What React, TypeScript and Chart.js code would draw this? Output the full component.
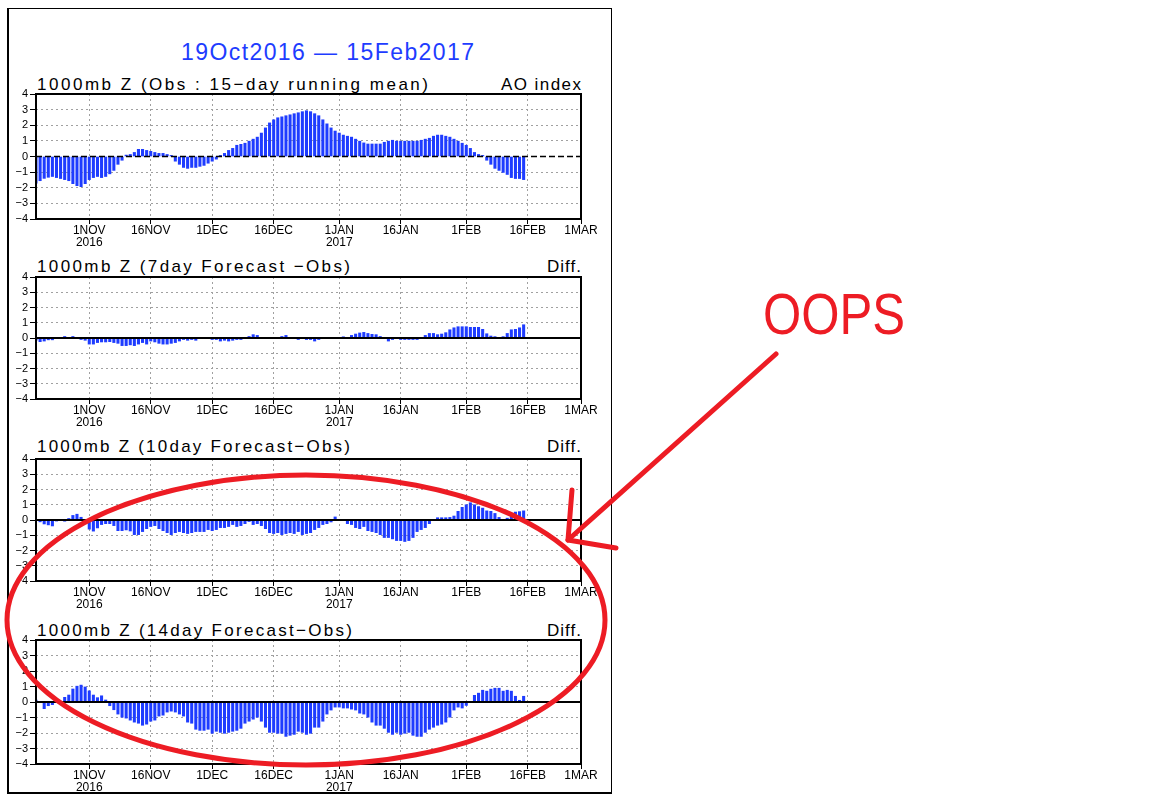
import React, { useEffect, useRef } from 'react';
import { Chart, registerables } from 'chart.js';

Chart.register(...registerables);

// ---- data (one bar per day, 19 Oct 2016 .. 15 Feb 2017) ----
const OBS_AO = [
  -1.70, -1.55, -1.40, -1.33, -1.28, -1.35, -1.41, -1.48, -1.55, -1.74,
  -1.87, -1.93, -1.74, -1.48, -1.35, -1.28, -1.35, -1.28, -1.11, -0.89,
  -0.50, -0.24, 0.09, 0.13, 0.26, 0.46, 0.46, 0.39, 0.33, 0.26,
  0.20, 0.20, 0.13, 0.07, -0.30, -0.50, -0.70, -0.76, -0.70, -0.70,
  -0.63, -0.57, -0.43, -0.30, -0.17, 0.07, 0.20, 0.39, 0.52, 0.72,
  0.78, 0.85, 0.98, 1.11, 1.24, 1.50, 1.83, 2.15, 2.35, 2.48,
  2.54, 2.61, 2.67, 2.74, 2.80, 2.87, 2.93, 2.87, 2.74, 2.61,
  2.35, 2.09, 1.83, 1.63, 1.50, 1.37, 1.30, 1.24, 1.11, 0.98,
  0.87, 0.80, 0.80, 0.80, 0.80, 0.91, 0.98, 1.04, 0.98, 0.98,
  0.98, 0.98, 0.98, 0.98, 1.04, 1.11, 1.17, 1.30, 1.37, 1.37,
  1.30, 1.24, 1.11, 0.98, 0.85, 0.72, 0.52, 0.26, 0.13, 0.07,
  -0.24, -0.50, -0.76, -0.89, -1.02, -1.15, -1.35, -1.41, -1.41, -1.48,
];

const DIFF_7DAY = [
  -0.15, -0.24, -0.20, -0.12, -0.12, 0, 0, 0.10, 0, 0.10,
  0, -0.10, -0.15, -0.40, -0.40, -0.30, -0.26, -0.26, -0.24, -0.30,
  -0.35, -0.50, -0.50, -0.45, -0.50, -0.40, -0.30, -0.40, -0.20, -0.26,
  -0.35, -0.40, -0.40, -0.35, -0.30, -0.20, -0.10, -0.15, -0.10, -0.15,
  0, 0, 0, -0.10, -0.10, -0.20, -0.15, -0.20, -0.15, -0.10,
  -0.10, 0, 0.10, 0.22, 0.17, 0, 0, 0, 0, 0,
  0.10, 0.17, 0, 0, -0.10, 0, -0.10, -0.10, -0.20, -0.10,
  0, 0, 0, 0, 0, 0.08, 0, 0.17, 0.26, 0.33,
  0.37, 0.30, 0.24, 0.22, 0.10, 0, -0.20, -0.10, 0, -0.10,
  -0.10, -0.10, -0.10, -0.10, 0, 0.17, 0.30, 0.30, 0.22, 0.26,
  0.35, 0.54, 0.67, 0.74, 0.74, 0.74, 0.70, 0.70, 0.70, 0.57,
  0.28, 0.13, 0.09, 0, 0.09, 0.30, 0.54, 0.57, 0.67, 0.87,
];

const DIFF_10DAY = [
  -0.05, -0.12, -0.26, -0.32, -0.39, -0.07, 0, -0.08, 0.10, 0.30,
  0.38, 0.18, -0.15, -0.60, -0.73, -0.52, -0.30, -0.24, -0.24, -0.37,
  -0.70, -0.70, -0.65, -0.72, -0.96, -0.96, -0.76, -0.57, -0.43, -0.37,
  -0.57, -0.70, -0.83, -0.96, -0.83, -0.76, -0.83, -0.89, -0.83, -0.76,
  -0.76, -0.76, -0.63, -0.70, -0.63, -0.50, -0.50, -0.43, -0.30, -0.43,
  -0.37, -0.24, -0.10, -0.30, -0.24, -0.37, -0.57, -0.83, -0.89, -0.83,
  -0.96, -0.89, -0.83, -0.89, -0.76, -0.96, -0.89, -0.83, -0.63, -0.50,
  -0.30, -0.24, -0.13, 0.20, 0, 0, -0.24, -0.30, -0.50, -0.57,
  -0.43, -0.70, -0.76, -0.83, -0.96, -1.15, -1.15, -1.24, -1.35, -1.35,
  -1.41, -1.35, -1.15, -0.76, -0.63, -0.50, -0.24, 0, 0.15, 0.15,
  0.15, 0.17, 0.26, 0.57, 0.83, 1.00, 1.13, 1.00, 0.88, 0.78,
  0.60, 0.57, 0.43, 0.17, 0, 0.12, 0.30, 0.52, 0.55, 0.60,
];

const DIFF_14DAY = [
  0.12, 0, -0.43, -0.24, -0.17, 0, 0, 0.30, 0.45, 0.84,
  1.02, 1.09, 0.97, 0.72, 0.45, 0.28, 0.40, 0.13, -0.24, -0.50,
  -0.78, -0.98, -1.04, -1.17, -1.30, -1.37, -1.50, -1.43, -1.24, -1.17,
  -0.91, -0.85, -0.65, -0.59, -0.65, -0.78, -0.91, -1.30, -1.37, -1.76,
  -1.83, -1.83, -1.76, -2.02, -1.89, -1.96, -2.02, -1.96, -1.89, -1.83,
  -1.70, -1.37, -1.24, -1.11, -0.98, -1.24, -1.63, -1.96, -1.96, -2.02,
  -2.02, -2.22, -2.15, -2.09, -1.89, -1.96, -2.09, -2.02, -1.63, -1.63,
  -1.24, -0.78, -0.52, -0.33, -0.33, -0.39, -0.39, -0.46, -0.52, -0.72,
  -0.78, -0.98, -1.30, -1.50, -1.50, -1.70, -1.96, -2.09, -1.96, -2.09,
  -2.02, -1.96, -2.15, -2.22, -2.22, -1.96, -1.76, -1.63, -1.50, -1.43,
  -1.30, -0.98, -0.52, -0.33, -0.39, -0.22, 0, 0.43, 0.57, 0.76,
  0.70, 0.83, 0.89, 0.89, 0.70, 0.76, 0.70, 0.37, 0.11, 0.37,
];

// x axis: days since 19 Oct 2016
const X_MIN_DAY = 0;
const X_MAX_DAY = 133; // 1 Mar 2017
const TICK_DAYS = [13, 28, 43, 58, 74, 89, 105, 120, 133];
const TICK_LABELS: (string | string[])[] = [
  ['1NOV', '2016'], '16NOV', '1DEC', '16DEC', ['1JAN', '2017'], '16JAN', '1FEB', '16FEB', '1MAR',
];
const Y_MIN = -4;
const Y_MAX = 4;

const MAIN_TITLE = '19Oct2016 \u2014 15Feb2017';
const ANNOTATION = 'OOPS';

// ---- styling ----
const BLUE = 'rgb(30,60,255)';
const GRID = '#a0a0a0';
const RED = '#ED1C24';
const TXT_FONT = "'Liberation Sans', Arial, sans-serif";
const TICK_FONT = "'Liberation Sans Narrow', 'Liberation Sans', sans-serif";

const PAD_T = 8;
const X_AXIS_H = 32;
const CANVAS_W = 610;
const PLOT_LEFT = 36;
const PLOT_RIGHT = 581;

type PanelDef = {
  title: string;
  tag: string;
  data: number[];
  top: number;
  h: number;
  dashedZero: boolean;
  titleBase: number;
  titleW: number;
};

const PANELS: PanelDef[] = [
  { title: '1000mb Z (Obs : 15\u2212day running mean)', tag: 'AO index', data: OBS_AO, top: 94, h: 125, dashedZero: true, titleBase: 90, titleW: 391 },
  { title: '1000mb Z (7day Forecast \u2212Obs)', tag: 'Diff.', data: DIFF_7DAY, top: 277, h: 122, dashedZero: false, titleBase: 272, titleW: 313 },
  { title: '1000mb Z (10day Forecast\u2212Obs)', tag: 'Diff.', data: DIFF_10DAY, top: 459, h: 122, dashedZero: false, titleBase: 452.5, titleW: 313 },
  { title: '1000mb Z (14day Forecast\u2212Obs)', tag: 'Diff.', data: DIFF_14DAY, top: 640, h: 124, dashedZero: false, titleBase: 636, titleW: 315 },
];

let measureCtx: CanvasRenderingContext2D | null = null;
function textWidth(text: string, font: string): number {
  if (!measureCtx) measureCtx = document.createElement('canvas').getContext('2d');
  if (!measureCtx) return text.length * 8;
  measureCtx.font = font;
  return measureCtx.measureText(text).width;
}

function FitText(props: { text: string; x: number; base: number; size: number; width: number; color: string; family?: string; scale?: boolean }) {
  const family = props.family || TXT_FONT;
  const font = `${props.size}px ${family}`;
  const w = textWidth(props.text, font);
  const n = props.text.length;
  const style: React.CSSProperties = {
    position: 'absolute',
    left: props.x,
    top: props.base - 0.8465 * props.size,
    fontSize: props.size,
    lineHeight: props.size + 'px',
    fontFamily: family,
    color: props.color,
    whiteSpace: 'nowrap',
  };
  if (props.scale) {
    style.transform = `scaleX(${props.width / w})`;
    style.transformOrigin = 'left top';
  } else if (n > 1) {
    style.letterSpacing = (props.width - w) / (n - 1) + 'px';
  }
  return <div style={style}>{props.text}</div>;
}

const framePlugin = {
  id: 'gradsFrame',
  afterDatasetsDraw(chart: any, _args: any, opts: any) {
    const { ctx, chartArea, scales } = chart;
    const y0 = scales.y.getPixelForValue(0);
    ctx.save();
    ctx.strokeStyle = '#000';
    if (opts.dashedZero) {
      ctx.setLineDash([6, 3]);
      ctx.lineWidth = 1.5;
    } else {
      ctx.lineWidth = 2;
    }
    ctx.beginPath();
    ctx.moveTo(chartArea.left, y0);
    ctx.lineTo(chartArea.right, y0);
    ctx.stroke();
    ctx.restore();
  },
  afterDraw(chart: any) {
    const { ctx, chartArea } = chart;
    ctx.save();
    ctx.strokeStyle = '#000';
    ctx.lineWidth = 2;
    ctx.strokeRect(chartArea.left, chartArea.top, chartArea.right - chartArea.left, chartArea.bottom - chartArea.top);
    ctx.restore();
  },
};

function Panel({ p }: { p: PanelDef }) {
  const ref = useRef<HTMLCanvasElement | null>(null);
  const canvasH = PAD_T + p.h + X_AXIS_H;
  useEffect(() => {
    if (!ref.current) return;
    const points = p.data.map((v, i) => ({ x: X_MIN_DAY + i, y: v }));
    const chart = new Chart(ref.current, {
      type: 'bar',
      data: {
        datasets: [
          {
            data: points as any,
            backgroundColor: BLUE,
            borderWidth: 0,
            barThickness: 2.4,
          } as any,
        ],
      },
      options: {
        animation: false,
        responsive: false,
        maintainAspectRatio: false,
        devicePixelRatio: 1,
        layout: { padding: { top: PAD_T, right: CANVAS_W - PLOT_RIGHT, left: 0, bottom: 0 } },
        plugins: {
          legend: { display: false },
          tooltip: { enabled: false },
          title: { display: false },
          gradsFrame: { dashedZero: p.dashedZero },
        } as any,
        scales: {
          x: {
            type: 'linear',
            min: X_MIN_DAY,
            max: X_MAX_DAY,
            offset: false,
            afterBuildTicks: (s: any) => {
              s.ticks = TICK_DAYS.map((v) => ({ value: v }));
            },
            afterFit: (s: any) => {
              s.height = X_AXIS_H;
              s.paddingLeft = 0;
              s.paddingRight = 0;
              s.paddingTop = 0;
              s.paddingBottom = 0;
            },
            ticks: {
              autoSkip: false,
              maxRotation: 0,
              minRotation: 0,
              padding: 1,
              color: '#000',
              font: { family: TICK_FONT, size: 12, lineHeight: 1.0 },
              callback: (_v: any, i: number) => TICK_LABELS[i],
            },
            grid: {
              offset: false,
              color: (c: any) => (c.tick && c.tick.value === X_MAX_DAY ? 'rgba(0,0,0,0)' : GRID),
              tickColor: '#000',
              tickLength: 5,
              lineWidth: 1,
            },
            border: { display: false, dash: [2, 3] },
          } as any,
          y: {
            min: Y_MIN,
            max: Y_MAX,
            afterFit: (s: any) => {
              s.width = PLOT_LEFT;
              s.paddingLeft = 0;
              s.paddingRight = 0;
              s.paddingTop = 0;
              s.paddingBottom = 0;
            },
            ticks: {
              stepSize: 1,
              autoSkip: false,
              padding: 2,
              color: '#000',
              font: { family: TXT_FONT, size: 11 },
              callback: (v: any) => (Number(v) < 0 ? '\u2212' + Math.abs(Number(v)) : String(v)),
            },
            grid: {
              color: (c: any) => {
                const v = c.tick ? c.tick.value : null;
                return v === 0 || v === Y_MIN || v === Y_MAX ? 'rgba(0,0,0,0)' : GRID;
              },
              tickColor: '#000',
              tickLength: 6,
              lineWidth: 1,
            },
            border: { display: false, dash: [2, 3] },
          } as any,
        },
      },
      plugins: [framePlugin as any],
    });
    return () => chart.destroy();
  }, []);
  return (
    <canvas
      ref={ref}
      width={CANVAS_W}
      height={canvasH}
      style={{ position: 'absolute', left: 0, top: p.top - PAD_T, width: CANVAS_W, height: canvasH }}
    />
  );
}

export default function App() {
  return (
    <div
      style={{
        position: 'absolute',
        left: 0,
        top: 0,
        width: 1152,
        height: 800,
        background: '#fff',
        overflow: 'hidden',
      }}
    >
      <div
        style={{
          position: 'absolute',
          left: 7,
          top: 8,
          width: 602,
          height: 783,
          borderLeft: '2px solid #000',
          borderBottom: '2px solid #000',
          borderTop: '1px solid #000',
          borderRight: '1px solid #000',
        }}
      />
      <FitText text={MAIN_TITLE} x={181} base={60} size={23} width={293} color={BLUE} />
      {PANELS.map((p, i) => (
        <React.Fragment key={i}>
          <FitText text={p.title} x={37} base={p.titleBase} size={17} width={p.titleW} color="#000" />
          <FitText
            text={p.tag}
            x={PLOT_RIGHT - (p.tag === 'AO index' ? 80 : 34)}
            base={p.titleBase}
            size={17}
            width={p.tag === 'AO index' ? 80 : 34}
            color="#000"
          />
          <Panel p={p} />
        </React.Fragment>
      ))}
      <svg
        width={1152}
        height={800}
        style={{ position: 'absolute', left: 0, top: 0, pointerEvents: 'none' }}
      >
        <ellipse cx={306} cy={620} rx={299} ry={145} fill="none" stroke={RED} strokeWidth={5} />
        <path d="M776 354 L568 540" fill="none" stroke={RED} strokeWidth={5} strokeLinecap="round" />
        <path d="M572 490 L568 540 L616 548" fill="none" stroke={RED} strokeWidth={5} strokeLinecap="round" strokeLinejoin="round" />
      </svg>
      <FitText text={ANNOTATION} x={763} base={334} size={57} width={142} color={RED} scale />
    </div>
  );
}
